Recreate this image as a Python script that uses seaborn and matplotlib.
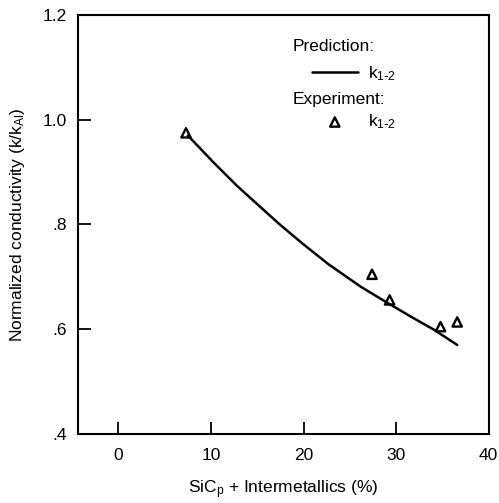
import numpy as np
import pandas as pd
import seaborn as sns
import matplotlib
matplotlib.use("Agg")
import matplotlib.pyplot as plt

# predicted curve k1-2
pred_x = [7.5, 10.3, 12.8, 15.3, 17.5, 20.0, 22.7, 26.2, 29.1, 31.6, 34.1, 36.6]
pred_y = [0.970, 0.918, 0.874, 0.834, 0.799, 0.762, 0.724, 0.681, 0.650, 0.624, 0.599, 0.570]

# experimental points k1-2
exp_x = [7.3, 27.4, 29.3, 34.8, 36.6]
exp_y = [0.975, 0.705, 0.656, 0.605, 0.614]

x_ticks = [0, 10, 20, 30, 40]
y_ticks = [0.4, 0.6, 0.8, 1.0, 1.2]
y_tick_labels = [".4", ".6", ".8", "1.0", "1.2"]

sns.set_style("ticks")
plt.rcParams["font.family"] = ["Liberation Sans", "DejaVu Sans"]
plt.rcParams["mathtext.default"] = "regular"
for key in ["text.color", "axes.labelcolor", "xtick.color", "ytick.color"]:
    plt.rcParams[key] = "black"

fs = 12.5

pred = pd.DataFrame({"x": pred_x, "y": pred_y})
expt = pd.DataFrame({"x": exp_x, "y": exp_y})

fig = plt.figure(figsize=(4.99, 5.03), dpi=100)
ax = fig.add_axes([0.1557, 0.1372, 0.8236, 0.833])

sns.lineplot(data=pred, x="x", y="y", color="black", linewidth=1.8,
             sort=False, ax=ax, label=r"k$_{1\text{-}2}$")
sns.scatterplot(data=expt, x="x", y="y", marker="^", s=45,
                facecolor="none", edgecolor="black", linewidth=1.7,
                ax=ax, label=r"k$_{1\text{-}2}$", zorder=3)

ax.set_xlim(-4.4, 40)
ax.set_ylim(0.4, 1.2)
ax.set_xticks(x_ticks)
ax.set_yticks(y_ticks)
ax.set_yticklabels(y_tick_labels)
ax.tick_params(direction="in", length=9, width=1.3, labelsize=fs)
ax.tick_params(axis="x", pad=10)
ax.tick_params(axis="y", pad=8)
for s in ax.spines.values():
    s.set_linewidth(1.5)
    s.set_color("black")

ax.set_xlabel(r"SiC$_{p}$ + Intermetallics (%)", fontsize=fs, labelpad=11)
ax.set_ylabel(r"Normalized conductivity (k/k$_{Al}$)", fontsize=fs, labelpad=11)

ax.text(0.523, 0.924, "Prediction:", transform=ax.transAxes,
        fontsize=fs, va="center", ha="left")
ax.text(0.523, 0.799, "Experiment:", transform=ax.transAxes,
        fontsize=fs, va="center", ha="left")

handles, labels = ax.get_legend_handles_labels()
ax.legend(handles, labels, loc="upper left", bbox_to_anchor=(0.569, 0.883),
          frameon=False, fontsize=fs, borderpad=0, borderaxespad=0,
          handlelength=2.68, handletextpad=0.55, labelspacing=1.72)

fig.savefig("out.png", dpi=100)
